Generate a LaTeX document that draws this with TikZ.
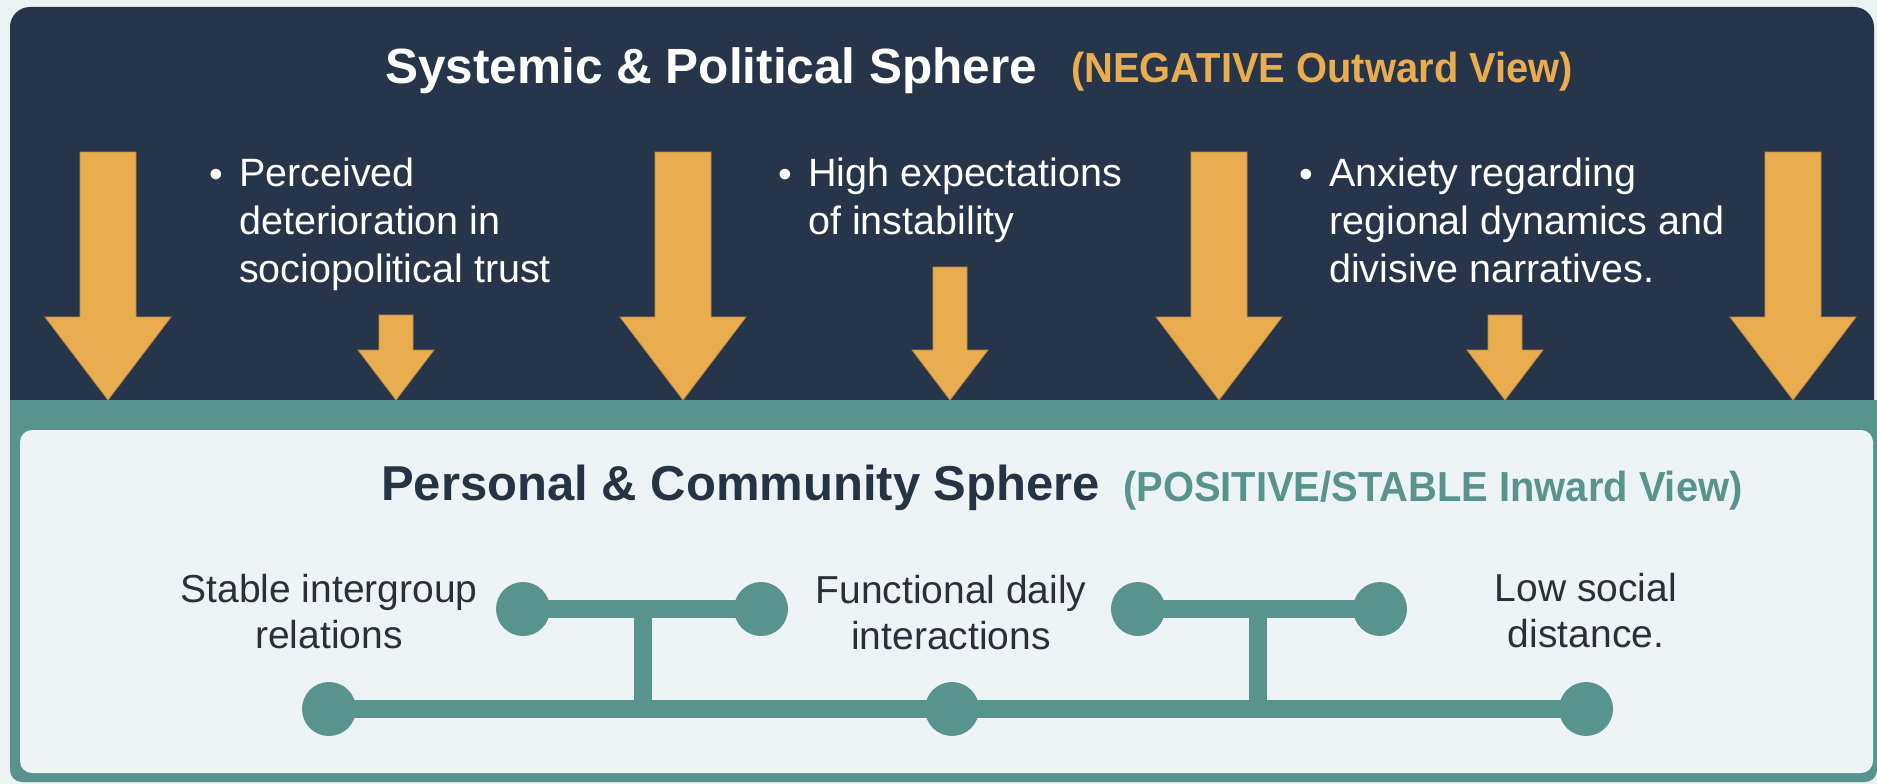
\documentclass[tikz,border=0pt]{standalone}
\usepackage{fontspec}
\setmainfont{Liberation Sans}
\newfontfamily\condfont{Liberation Sans}[FakeStretch=0.95]
\definecolor{navy}{HTML}{27354A}
\definecolor{orangec}{HTML}{E9AD50}
\definecolor{tealc}{HTML}{59938E}
\definecolor{lightc}{HTML}{EEF4F5}
\definecolor{bgc}{HTML}{EBF2F2}
\definecolor{darktext}{HTML}{2A3039}
\definecolor{titledark}{HTML}{263345}
\newcommand\orarrow[5]{%
  \filldraw[arrowsty] (#1-#2,#4) -- (#1+#2,#4) -- (#1+#2,#5) -- (#1+#3,#5) -- (#1,400) -- (#1-#3,#5) -- (#1-#2,#5) -- cycle;}
\tikzset{
  arrowsty/.style={fill=orangec, draw=orangec!80!black, line width=0.8pt},
  titletop/.style={anchor=base west, inner sep=0pt, text=white, font=\fontsize{49.5}{58}\selectfont\bfseries},
  subtitle/.style={anchor=base west, inner sep=0pt, font=\fontsize{42}{50}\selectfont\condfont\bfseries},
  bullettext/.style={anchor=north west, inner sep=0pt, align=left, text=white, font=\fontsize{39.5}{48}\selectfont},
  bulletdot/.style={anchor=base, inner sep=0pt, text=white, font=\fontsize{39}{48}\selectfont},
  label/.style={anchor=north, inner sep=0pt, align=center, text=darktext, font=\fontsize{39}{46}\selectfont},
  dot/.style={circle, fill=tealc, minimum size=54pt, inner sep=0pt},
  link/.style={draw=tealc, line width=18pt},
}
\begin{document}
\begin{tikzpicture}[x=1pt, y=-1pt]
\useasboundingbox (0,0) rectangle (1877,784);
\fill[bgc] (0,0) rectangle (1877,784);
% top dark panel
\fill[navy, rounded corners=20pt] (10,7) rectangle (1874,430);
% teal frame and light panel
\fill[tealc, rounded corners=12pt] (10,400) rectangle (1877,782);
\fill[tealc] (10,400) rectangle (1877,420);
\fill[lightc, rounded corners=12pt] (20,430) rectangle (1873,773);

% titles
\node[titletop] (toptitle) at (385,84) {Systemic \& Political Sphere};
\node[subtitle, text=orangec] (topsub) at (1071,82) {(NEGATIVE Outward View)};

% bullet items
\node[bulletdot] (b1dot) at (216,187) {•};
\node[bullettext] (b1) at (239,158) {Perceived\\deterioration in\\sociopolitical trust};
\node[bulletdot] (b2dot) at (785,187) {•};
\node[bullettext] (b2) at (808,158) {High expectations\\of instability};
\node[bulletdot] (b3dot) at (1306,187) {•};
\node[bullettext] (b3) at (1329,158) {Anxiety regarding\\regional dynamics and\\divisive narratives.};

% arrows
\orarrow{108}{28}{63}{152}{317}
\orarrow{683}{28}{63}{152}{317}
\orarrow{1219}{28}{63}{152}{317}
\orarrow{1793}{28}{63}{152}{317}
\orarrow{396}{17}{38}{315}{350}
\orarrow{950}{17}{38}{267}{350}
\orarrow{1505}{17}{38}{315}{350}

% bottom titles
\node[titletop, text=titledark, font=\fontsize{49}{58}\selectfont\bfseries] (bottitle) at (381,500) {Personal \& Community Sphere};
\node[subtitle, text=tealc] (botsub) at (1123,501) {(POSITIVE/STABLE Inward View)};

% labels
\node[label] (l1) at (329,574) {Stable intergroup\\relations};
\node[label] (l2) at (951,575) {Functional daily\\interactions};
\node[label] (l3) at (1586,573) {Low social\\distance.};

% network
\node[dot] (c1) at (523,609) {};
\node[dot] (c2) at (761,609) {};
\node[dot] (c3) at (1138,609) {};
\node[dot] (c4) at (1380,609) {};
\node[dot] (d1) at (329,709) {};
\node[dot] (d2) at (952,709) {};
\node[dot] (d3) at (1586,709) {};
\coordinate (j1) at (643,609);
\coordinate (j1b) at (643,709);
\coordinate (j2) at (1258,609);
\coordinate (j2b) at (1258,709);
\draw[link] (c1.center) -- (c2.center);
\draw[link] (c3.center) -- (c4.center);
\draw[link] (j1) -- (j1b);
\draw[link] (j2) -- (j2b);
\draw[link] (d1.center) -- (d2.center);
\draw[link] (d2.center) -- (d3.center);
\end{tikzpicture}
\end{document}
